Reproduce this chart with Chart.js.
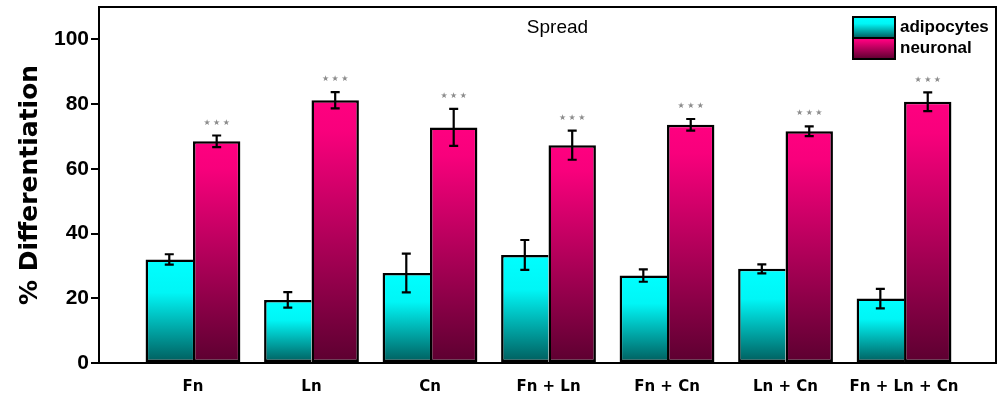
<!DOCTYPE html>
<html>
<head>
<meta charset="utf-8">
<title>Spread – % Differentiation</title>
<script src="https://cdn.jsdelivr.net/npm/chart.js@4/dist/chart.umd.min.js"></script>
<style>
  html, body { margin: 0; padding: 0; background: #ffffff; }
  #wrap { width: 998px; height: 400px; }
</style>
</head>
<body>
<div id="wrap"><canvas id="chart" width="998" height="400"></canvas></div>
<script>
// Substrate conditions
const categories = ['Fn', 'Ln', 'Cn', 'Fn + Ln', 'Fn + Cn', 'Ln + Cn', 'Fn + Ln + Cn'];

// Mean % differentiation and error (± SE) per condition
const adipocytes    = [32.0, 19.5, 27.8, 33.4, 27.0, 29.1, 19.9];
const adipocytesErr = [1.6, 2.4, 6.0, 4.6, 1.9, 1.4, 3.0];
const neuronal      = [68.5, 81.2, 72.8, 67.3, 73.6, 71.6, 80.7];
const neuronalErr   = [1.8, 2.5, 5.7, 4.5, 1.8, 1.5, 2.9];

// Significance markers above the neuronal bars
const significance = ['***', '***', '***', '***', '***', '***', '***'];

// Y axis tick values
const yTicks = [0, 20, 40, 60, 80, 100];

const chartTitle = 'Spread';
const yTitle = '% Differentiation';

const cyanStops    = [[0, '#00ffff'], [0.32, '#00f6f6'], [1, '#005c5c']];
const magentaStops = [[0, '#ff0080'], [0.12, '#f8007c'], [1, '#5c0030']];

function makeGradient(ctx, top, bottom, stops) {
  const g = ctx.createLinearGradient(0, top, 0, bottom);
  stops.forEach(([o, c]) => g.addColorStop(o, c));
  return g;
}

// Per-bar vertical gradient, spanning each bar's own height
function barFill(stops, fallback) {
  return function (context) {
    const chart = context.chart;
    const yScale = chart.scales.y;
    if (!chart.chartArea || !yScale || context.type !== 'data') return fallback;
    const v = context.raw && context.raw.y !== undefined ? context.raw.y : context.raw;
    const top = yScale.getPixelForValue(v);
    const bottom = yScale.getPixelForValue(0);
    if (!isFinite(top) || !isFinite(bottom) || top === bottom) return fallback;
    return makeGradient(chart.ctx, top, bottom, stops);
  };
}

const errors = [adipocytesErr, neuronalErr];

// Frame around the plot area
const framePlugin = {
  id: 'frame',
  afterDraw(chart) {
    const { ctx, chartArea: a } = chart;
    ctx.save();
    ctx.strokeStyle = '#000';
    ctx.lineWidth = 2;
    ctx.strokeRect(a.left, a.top, a.right - a.left, a.bottom - a.top);
    ctx.restore();
  }
};

// Error bars and significance stars
const errorBarPlugin = {
  id: 'errorBars',
  afterDatasetsDraw(chart) {
    const ctx = chart.ctx;
    const yScale = chart.scales.y;
    ctx.save();
    chart.data.datasets.forEach((ds, di) => {
      const meta = chart.getDatasetMeta(di);
      meta.data.forEach((bar, i) => {
        const v = ds.data[i].y;
        const e = errors[di][i];
        const yTop = yScale.getPixelForValue(v + e);
        const yBot = yScale.getPixelForValue(v - e);
        const x = bar.x;
        const cap = 4.5;
        ctx.strokeStyle = '#000';
        ctx.lineWidth = 2.2;
        ctx.beginPath();
        ctx.moveTo(x, yTop); ctx.lineTo(x, yBot);
        ctx.moveTo(x - cap, yTop); ctx.lineTo(x + cap, yTop);
        ctx.moveTo(x - cap, yBot); ctx.lineTo(x + cap, yBot);
        ctx.stroke();
        if (di === 1 && significance[i]) {
          const stars = significance[i].split('').map(() => '\u2605').join(' ');
          ctx.fillStyle = '#8c8c8c';
          ctx.font = '8px "DejaVu Sans"';
          ctx.textAlign = 'center';
          ctx.textBaseline = 'middle';
          ctx.fillText(stars, x, yTop - 13);
        }
      });
    });
    ctx.restore();
  }
};

// Panel title and legend drawn inside the plot area
const insetPlugin = {
  id: 'insets',
  afterDraw(chart) {
    const { ctx, chartArea: a } = chart;
    ctx.save();
    ctx.fillStyle = '#000';
    ctx.font = '19px "Liberation Sans", Arial, sans-serif';
    ctx.textAlign = 'center';
    ctx.textBaseline = 'middle';
    ctx.fillText(chartTitle, (a.left + a.right) / 2 + 10, a.top + 21);

    const bx = a.right - 143, bw = 42, bh = 21;
    const items = [
      { label: chart.data.datasets[0].label, stops: cyanStops, y: a.top + 10 },
      { label: chart.data.datasets[1].label, stops: magentaStops, y: a.top + 31 }
    ];
    items.forEach(it => {
      ctx.fillStyle = makeGradient(ctx, it.y, it.y + bh, it.stops);
      ctx.fillRect(bx, it.y, bw, bh);
      ctx.strokeStyle = '#000';
      ctx.lineWidth = 2;
      ctx.strokeRect(bx, it.y, bw, bh);
      ctx.fillStyle = '#000';
      ctx.font = 'bold 17px "Liberation Sans", Arial, sans-serif';
      ctx.textAlign = 'left';
      ctx.textBaseline = 'middle';
      ctx.fillText(it.label, bx + bw + 5, it.y + bh / 2);
    });
    ctx.restore();
  }
};

const toPoints = arr => arr.map((v, i) => ({ x: i, y: v }));

new Chart(document.getElementById('chart'), {
  type: 'bar',
  data: {
    datasets: [
      {
        label: 'adipocytes',
        data: toPoints(adipocytes),
        backgroundColor: barFill(cyanStops, '#00c8c8'),
        borderColor: '#000',
        // the right edge is shared with the neuronal bar's left border
        borderWidth: { top: 2.5, left: 2.5, bottom: 2.5, right: 0 },
        borderSkipped: false,
        categoryPercentage: 0.8,
        barPercentage: 1.0
      },
      {
        label: 'neuronal',
        data: toPoints(neuronal),
        backgroundColor: barFill(magentaStops, '#c00060'),
        borderColor: '#000',
        borderWidth: 2.5,
        borderSkipped: false,
        categoryPercentage: 0.8,
        barPercentage: 1.0
      }
    ]
  },
  options: {
    responsive: false,
    animation: false,
    devicePixelRatio: 1,
    layout: { padding: { top: 7, right: 2, left: 0, bottom: 0 } },
    plugins: {
      legend: { display: false },
      tooltip: { enabled: false }
    },
    scales: {
      x: {
        type: 'linear',
        offset: false,
        min: -0.793,
        max: 6.776,
        afterBuildTicks(scale) {
          scale.ticks = categories.map((_, i) => ({ value: i }));
        },
        afterFit(scale) {
          scale.height = 37;
          scale.paddingLeft = 0;
          scale.paddingRight = 0;
        },
        grid: { display: false, drawTicks: false, offset: false },
        border: { display: true, color: '#000', width: 2 },
        ticks: {
          autoSkip: false,
          maxRotation: 0,
          padding: 15,
          color: '#000',
          font: { family: '"DejaVu Sans"', size: 15, weight: 'bold' },
          callback: v => categories[v] ?? ''
        }
      },
      y: {
        min: 0,
        max: 110,
        afterBuildTicks(scale) {
          scale.ticks = yTicks.map(v => ({ value: v }));
        },
        afterFit(scale) {
          scale.width = 99;
          scale.paddingTop = 0;
          scale.paddingBottom = 0;
        },
        grid: {
          drawOnChartArea: false,
          drawTicks: true,
          tickLength: 8,
          tickColor: '#000',
          lineWidth: 2
        },
        border: { display: true, color: '#000', width: 2 },
        ticks: {
          padding: 2,
          color: '#000',
          font: { family: '"Liberation Sans", Arial, sans-serif', size: 21, weight: 'bold' }
        },
        title: {
          display: true,
          text: yTitle,
          color: '#000',
          padding: { top: 15, bottom: 0 },
          font: { family: '"DejaVu Sans"', size: 25, weight: 'bold' }
        }
      }
    }
  },
  plugins: [framePlugin, errorBarPlugin, insetPlugin]
});
</script>
</body>
</html>
